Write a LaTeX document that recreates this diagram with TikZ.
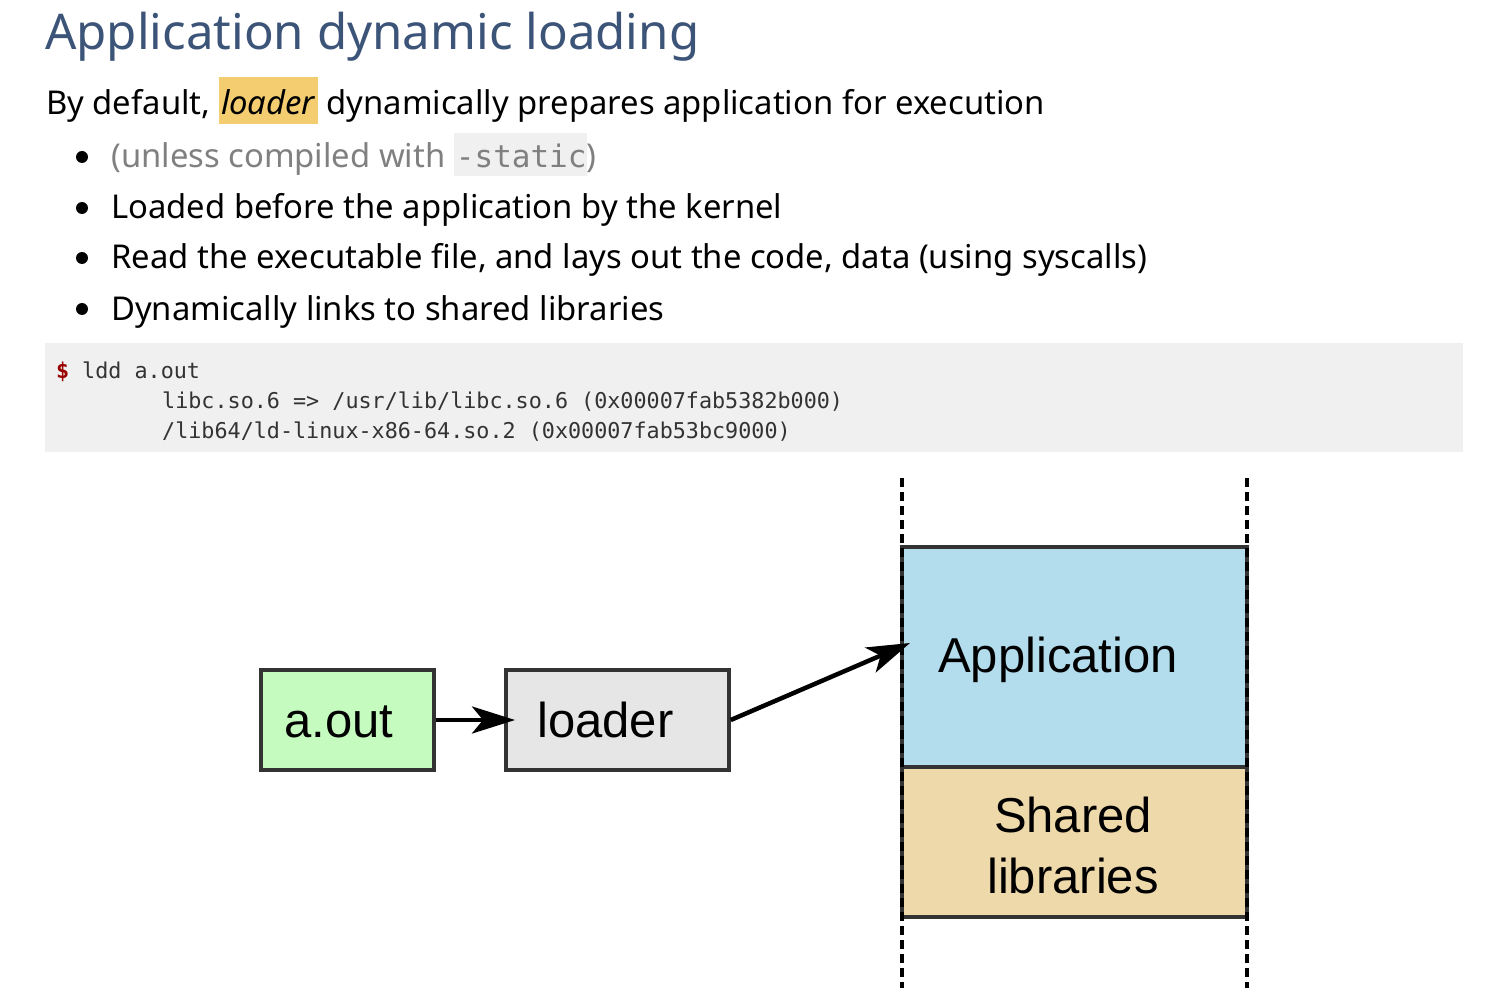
\documentclass[tikz,border=0pt]{standalone}
\usepackage{fontspec}
\setmainfont{Noto Sans}
\setmonofont{DejaVu Sans Mono}
\newfontfamily\diagfont{Liberation Sans}
\usetikzlibrary{arrows.meta}
\definecolor{titleblue}{HTML}{3B5478}
\definecolor{hlyellow}{HTML}{F3CD6F}
\definecolor{codebg}{HTML}{F0F0F0}
\definecolor{promptred}{HTML}{990000}
\definecolor{dimgray}{HTML}{808080}
\definecolor{boxline}{HTML}{333333}
\definecolor{aoutfill}{HTML}{C6FBBF}
\definecolor{loaderfill}{HTML}{E6E6E6}
\definecolor{appfill}{HTML}{B3DCED}
\definecolor{libfill}{HTML}{EED9AB}
\tikzset{
  txt/.style={anchor=base west, inner sep=0pt, font=\fontsize{32.8}{40}\selectfont},
  codetxt/.style={anchor=base west, inner sep=0pt, font=\ttfamily\fontsize{21.75}{26}\selectfont, text=black!80},
  bulletdot/.style={circle, fill=black, inner sep=0pt, minimum size=12pt},
  block/.style={draw=boxline, line width=3.5pt, inner sep=0pt},
  blocktxt/.style={inner sep=0pt, font=\diagfont\fontsize{49}{56}\selectfont},
  flow/.style={line width=4.5pt, -{Stealth[length=43pt, width=27pt, inset=11pt]}},
  bound/.style={line width=3.5pt, dash pattern=on 9pt off 5pt},
}
\begin{document}
\begin{tikzpicture}[x=1pt, y=-1pt]
\useasboundingbox (0,0) rectangle (1510,1008);

% heading
\node[anchor=base west, inner sep=0pt, text=titleblue, font=\fontsize{49.2}{60}\selectfont] (title) at (45,50) {Application dynamic loading};

% lead sentence
\node[txt] (lead) at (46,115) {By default, {\setlength{\fboxsep}{0pt}\colorbox{hlyellow}{\rule[-9pt]{0pt}{47pt}\hspace{2pt}\textit{loader}\hspace{2pt}}} dynamically prepares application for execution};

% bullet points
\node[bulletdot] (d1) at (82,157) {};
\node[txt, text=dimgray] (b1) at (111,168) {(unless compiled with {\setlength{\fboxsep}{0pt}\colorbox{codebg}{\rule[-8pt]{0pt}{43pt}\hspace{2pt}\ttfamily\fontsize{31}{36}\selectfont -static}})};
\node[bulletdot] (d2) at (82,208) {};
\node[txt] (b2) at (111,219) {Loaded before the application by the kernel};
\node[bulletdot] (d3) at (82,258) {};
\node[txt] (b3) at (111,269) {Read the executable file, and lays out the code, data (using syscalls)};
\node[bulletdot] (d4) at (82,309) {};
\node[txt] (b4) at (111,320) {Dynamically links to shared libraries};

% shell listing
\fill[codebg] (45,343) rectangle (1463,452);
\node[codetxt, text=promptred, font=\ttfamily\bfseries\fontsize{21.75}{26}\selectfont] (prompt) at (56,378) {\$};
\node[codetxt] (c1) at (82,378) {ldd a.out};
\node[codetxt] (c2) at (162,408) {libc.so.6 => /usr/lib/libc.so.6 (0x00007fab5382b000)};
\node[codetxt] (c3) at (162,438) {/lib64/ld-linux-x86-64.so.2 (0x00007fab53bc9000)};

% loading diagram
\node[block, fill=aoutfill, minimum width=173pt, minimum height=100pt] (aout) at (347.5,720) {};
\node[blocktxt, anchor=base west] (aoutlabel) at (284,737) {a.out};
\node[block, fill=loaderfill, minimum width=223pt, minimum height=100pt] (loader) at (617.5,720) {};
\node[blocktxt, anchor=base west] (loaderlabel) at (537,737) {loader};
\node[block, fill=appfill, minimum width=345pt, minimum height=220pt] (app) at (1074.5,657) {};
\node[blocktxt, anchor=base west] (applabel) at (938,672) {Application};
\node[block, fill=libfill, minimum width=345pt, minimum height=150pt] (libs) at (1074.5,842) {};
\node[blocktxt, anchor=base] (libs1) at (1073,832) {Shared};
\node[blocktxt, anchor=base] (libs2) at (1073,893) {libraries};

% address space boundaries
\coordinate (ltop) at (902,478);
\coordinate (lbot) at (902,988);
\coordinate (rtop) at (1247,478);
\coordinate (rbot) at (1247,988);
\draw[bound] (ltop) -- (lbot);
\draw[bound] (rtop) -- (rbot);

% flow
\coordinate (loadtip) at (515,720);
\coordinate (apptip) at (910,643);
\draw[flow] (aout.east) -- (loadtip);
\draw[flow] (loader.east) -- (apptip);
\end{tikzpicture}
\end{document}
